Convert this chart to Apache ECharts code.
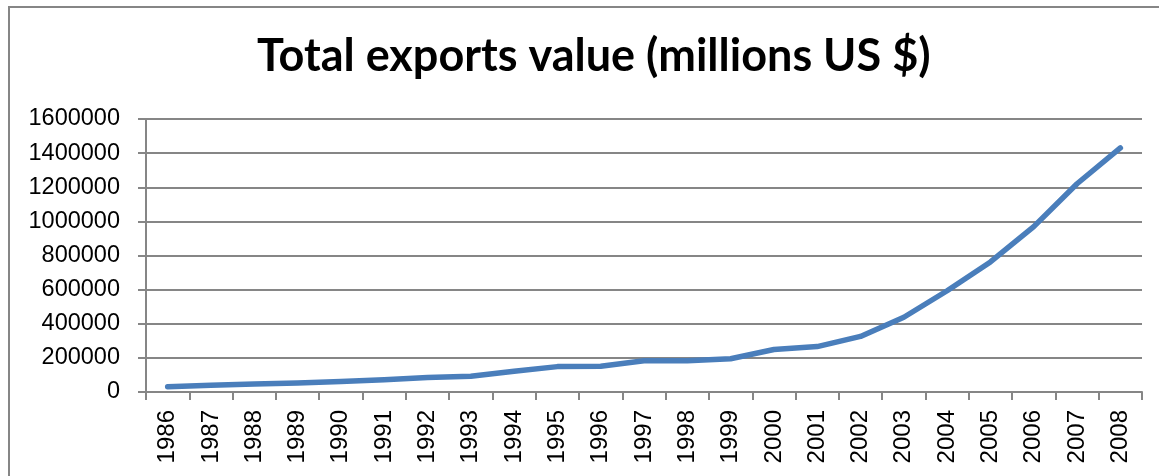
<!DOCTYPE html>
<html>
<head>
<meta charset="utf-8">
<script src="https://cdn.jsdelivr.net/npm/echarts@6/dist/echarts.min.js"></script>
<style>
html,body{margin:0;padding:0;background:#fff;}
#c{width:1159px;height:476px;}
</style>
</head>
<body>
<div id="c"></div>
<script>
var years = ['1986','1987','1988','1989','1990','1991','1992','1993','1994','1995','1996','1997','1998','1999','2000','2001','2002','2003','2004','2005','2006','2007','2008'];
var exportsValue = [31000, 39000, 47500, 52500, 62000, 71800, 85000, 91700, 121000, 148800, 151000, 182800, 183700, 195000, 249200, 266100, 325600, 438200, 593300, 762000, 969000, 1220500, 1430700];
var yTicks = {min: 0, max: 1600000, interval: 200000};
var titleText = 'Total exports value (millions US $)';

var chart = echarts.init(document.getElementById('c'), null, {renderer: 'canvas'});
chart.setOption({
  animation: false,
  backgroundColor: '#ffffff',
  graphic: [{
    type: 'rect',
    shape: {x: 9, y: 7, width: 1200, height: 500},
    style: {fill: 'none', stroke: '#868686', lineWidth: 2},
    silent: true
  }],
  title: {
    text: titleText,
    left: 252,
    top: 29,
    textStyle: {fontFamily: 'Lato', fontWeight: 'bold', fontSize: 45, color: '#000'}
  },
  grid: {left: 146, right: 17, top: 119, bottom: 84, containLabel: false},
  xAxis: {
    type: 'category',
    data: years,
    boundaryGap: true,
    axisLine: {show: true, lineStyle: {color: '#868686', width: 2}},
    axisTick: {show: true, alignWithLabel: false, length: 8, lineStyle: {color: '#868686', width: 2}},
    axisLabel: {rotate: 90, margin: 18, interval: 0, fontFamily: 'Liberation Sans', fontSize: 24, color: '#000'},
    splitLine: {show: false}
  },
  yAxis: {
    type: 'value',
    min: yTicks.min,
    max: yTicks.max,
    interval: yTicks.interval,
    axisLine: {show: true, lineStyle: {color: '#868686', width: 2}},
    axisTick: {show: true, length: 8, lineStyle: {color: '#868686', width: 2}},
    axisLabel: {margin: 26, fontFamily: 'Liberation Sans', fontSize: 23.5, color: '#000', formatter: function (v) { return String(v); }},
    splitLine: {show: true, lineStyle: {color: '#868686', width: 2}}
  },
  series: [{
    type: 'line',
    data: exportsValue,
    symbol: 'none',
    smooth: false,
    lineStyle: {color: '#4a7ebb', width: 5.5, cap: 'round', join: 'round'}
  }]
});
</script>
</body>
</html>
